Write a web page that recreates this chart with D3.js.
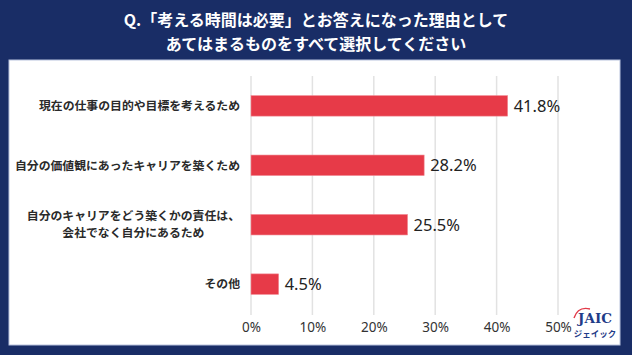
<!DOCTYPE html>
<html><head><meta charset="utf-8">
<script src="https://cdn.jsdelivr.net/npm/d3@7"></script>
<style>
html,body{margin:0;padding:0;background:#192d66;}
svg{display:block;}
</style></head>
<body>
<svg id="c" width="632" height="355"></svg>
<script>
const titleLines = ["Q.「考える時間は必要」とお答えになった理由として", "あてはまるものをすべて選択してください"];
const categories = [
  ["現在の仕事の目的や目標を考えるため"],
  ["自分の価値観にあったキャリアを築くため"],
  ["自分のキャリアをどう築くかの責任は、", "会社でなく自分にあるため"],
  ["その他"]
];
const values = [41.8, 28.2, 25.5, 4.5];
const ticks = [0, 10, 20, 30, 40, 50];

const svg = d3.select("#c");
const font = "'Noto Sans CJK JP','Noto Sans',sans-serif";
svg.append("rect").attr("width",632).attr("height",355).attr("fill","#192d66");
svg.append("rect").attr("x",9).attr("y",60).attr("width",611).attr("height",285)
  .attr("fill","#ffffff").attr("stroke","#b9c3dd").attr("stroke-width",1);

svg.selectAll("text.title").data(titleLines).join("text")
  .attr("x",316).attr("y",(d,i)=>26+i*23.5)
  .attr("text-anchor","middle").attr("fill","#ffffff")
  .attr("font-family",font).attr("font-weight","bold").attr("font-size",16)
  .text(d=>d);

const x = d3.scaleLinear().domain([0,50]).range([251,558]);
const y = d3.scaleBand().domain(d3.range(values.length)).range([76,314]).paddingInner(0.655).paddingOuter(0.33);

svg.selectAll("line.grid").data(ticks).join("line")
  .attr("x1",d=>x(d)).attr("x2",d=>x(d)).attr("y1",76).attr("y2",315)
  .attr("stroke","#e2e2e2").attr("stroke-width",1.5);

const axis = d3.axisBottom(x).tickValues(ticks).tickFormat(d=>d+"%").tickSize(0).tickPadding(0);
const ag = svg.append("g").attr("transform","translate(0,322)").call(axis);
ag.select(".domain").remove();
ag.selectAll("text").attr("font-family","'Noto Sans',sans-serif").attr("font-size",13.5).attr("fill","#333").attr("dy","0.72em").attr("y",0);

svg.selectAll("rect.bar").data(values).join("rect")
  .attr("x",x(0)).attr("y",(d,i)=>y(i)).attr("width",d=>x(d)-x(0)).attr("height",y.bandwidth())
  .attr("fill","#e73a48").attr("stroke","#f08a93").attr("stroke-width",0.6);

svg.selectAll("text.val").data(values).join("text")
  .attr("x",d=>x(d)+6).attr("y",(d,i)=>y(i)+y.bandwidth()/2)
  .attr("dy","0.37em").attr("font-family","'Noto Sans',sans-serif").attr("font-size",16.5).attr("fill","#222")
  .text(d=>d.toFixed(1)+"%");

// category labels: one text element per line; continuation lines centred under the first
const lineH = 17;
categories.forEach((lines,i)=>{
  const cy = y(i)+y.bandwidth()/2;
  const n = lines.length;
  let w0 = 0;
  lines.forEach((s,j)=>{
    const t = svg.append("text")
      .attr("font-family",font).attr("font-size",11.85).attr("font-weight",600).attr("fill","#2a2a2a")
      .attr("y",cy+(j-(n-1)/2)*lineH).attr("dy","0.36em").text(s);
    if(j===0){ t.attr("x",240).attr("text-anchor","end"); w0 = t.node().getComputedTextLength(); }
    else { t.attr("x",240-w0/2).attr("text-anchor","middle"); }
  });
});

// logo
const lg = svg.append("g");
lg.append("path").attr("d","M574,318 Q578,306 590,309").attr("fill","none").attr("stroke","#e23a48").attr("stroke-width",1.4);
lg.append("text").attr("x",595).attr("y",323).attr("text-anchor","middle")
  .attr("font-family","'DejaVu Serif','Liberation Serif',serif").attr("font-weight","bold").attr("font-size",13.5).attr("fill","#1f3c88").text("JAIC");
lg.append("text").attr("x",595).attr("y",337).attr("text-anchor","middle")
  .attr("font-family",font).attr("font-weight","bold").attr("font-size",8.5).attr("fill","#1f3c88").text("ジェイック");
</script>
</body></html>
